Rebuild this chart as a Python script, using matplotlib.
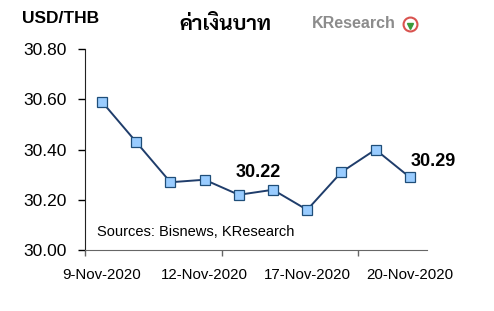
import matplotlib
matplotlib.use("Agg")
import matplotlib.pyplot as plt
from matplotlib.lines import Line2D

plt.rcParams['font.family'] = ['Liberation Sans', 'DejaVu Sans']

# USD/THB daily closing, 9-20 Nov 2020
dates = ["9-Nov-2020", "10-Nov-2020", "11-Nov-2020", "12-Nov-2020", "13-Nov-2020",
         "16-Nov-2020", "17-Nov-2020", "18-Nov-2020", "19-Nov-2020", "20-Nov-2020"]
rates = [30.59, 30.43, 30.27, 30.28, 30.22, 30.24, 30.16, 30.31, 30.40, 30.29]
label_idx = [0, 3, 6, 9]
callouts = [4, 9]
yticks = [30.00, 30.20, 30.40, 30.60, 30.80]

fig = plt.figure(figsize=(4.94, 3.11), dpi=100)
ax = fig.add_axes([0.172, 0.196, 0.692, 0.646])

x = list(range(len(rates)))
ax.plot(x, rates, color="#1f3d6b", linewidth=1.4, marker="s", markersize=7,
        markerfacecolor="#99ccff", markeredgecolor="#1f4e79", markeredgewidth=0.9)

ax.set_xlim(-0.5, len(rates) - 0.5)
ax.set_ylim(30.0, 30.8)
ax.set_yticks(yticks)
ax.set_yticklabels(["%.2f" % v for v in yticks], fontsize=12.5)

# tick marks every 4 categories, labels every 3
ax.set_xticks([-0.5, 3.5, 7.5], minor=True)
ax.set_xticks(label_idx)
ax.set_xticklabels([dates[i] for i in label_idx], fontsize=10.8)
ax.tick_params(axis="x", which="major", length=0, pad=13)
ax.tick_params(axis="x", which="minor", length=4, width=1, color="#666666", direction="out")
ax.tick_params(axis="y", length=5, width=1, direction="out", pad=8)

for s in ["top", "right"]:
    ax.spines[s].set_visible(False)
ax.spines["left"].set_color("#222222")
ax.spines["bottom"].set_color("#666666")

offsets = {4: (14, 16), 9: (17, 11)}
for i in callouts:
    ax.annotate("%.2f" % rates[i], (x[i], rates[i]), xytext=offsets[i],
                textcoords="offset points", ha="center", va="center",
                fontsize=13, fontweight="bold")

ax.text(0.035, 0.09, "Sources: Bisnews, KResearch", transform=ax.transAxes,
        fontsize=10.5, va="center", ha="left")

fig.text(0.045, 0.939, "USD/THB", fontsize=12.5, fontweight="bold", va="center", ha="left")
fig.text(0.457, 0.92, "ค่าเงินบาท", fontsize=15, fontweight="bold", va="center", ha="center",
         family=["Sarabun", "Noto Sans Thai", "Noto Looped Thai", "DejaVu Sans"])

# logo
fig.text(0.632, 0.923, "KResearch", fontsize=11.5, fontweight="bold", color="#8c8c8c",
         va="center", ha="left")
fig.add_artist(Line2D([0.83], [0.923], transform=fig.transFigure, marker="o", markersize=10,
                      markerfacecolor="white", markeredgecolor="#d9534f", markeredgewidth=1.5))
fig.add_artist(Line2D([0.83], [0.918], transform=fig.transFigure, marker="v", markersize=4,
                      markerfacecolor="#3a9a3a", markeredgecolor="#3a9a3a"))

fig.savefig("out.png")
